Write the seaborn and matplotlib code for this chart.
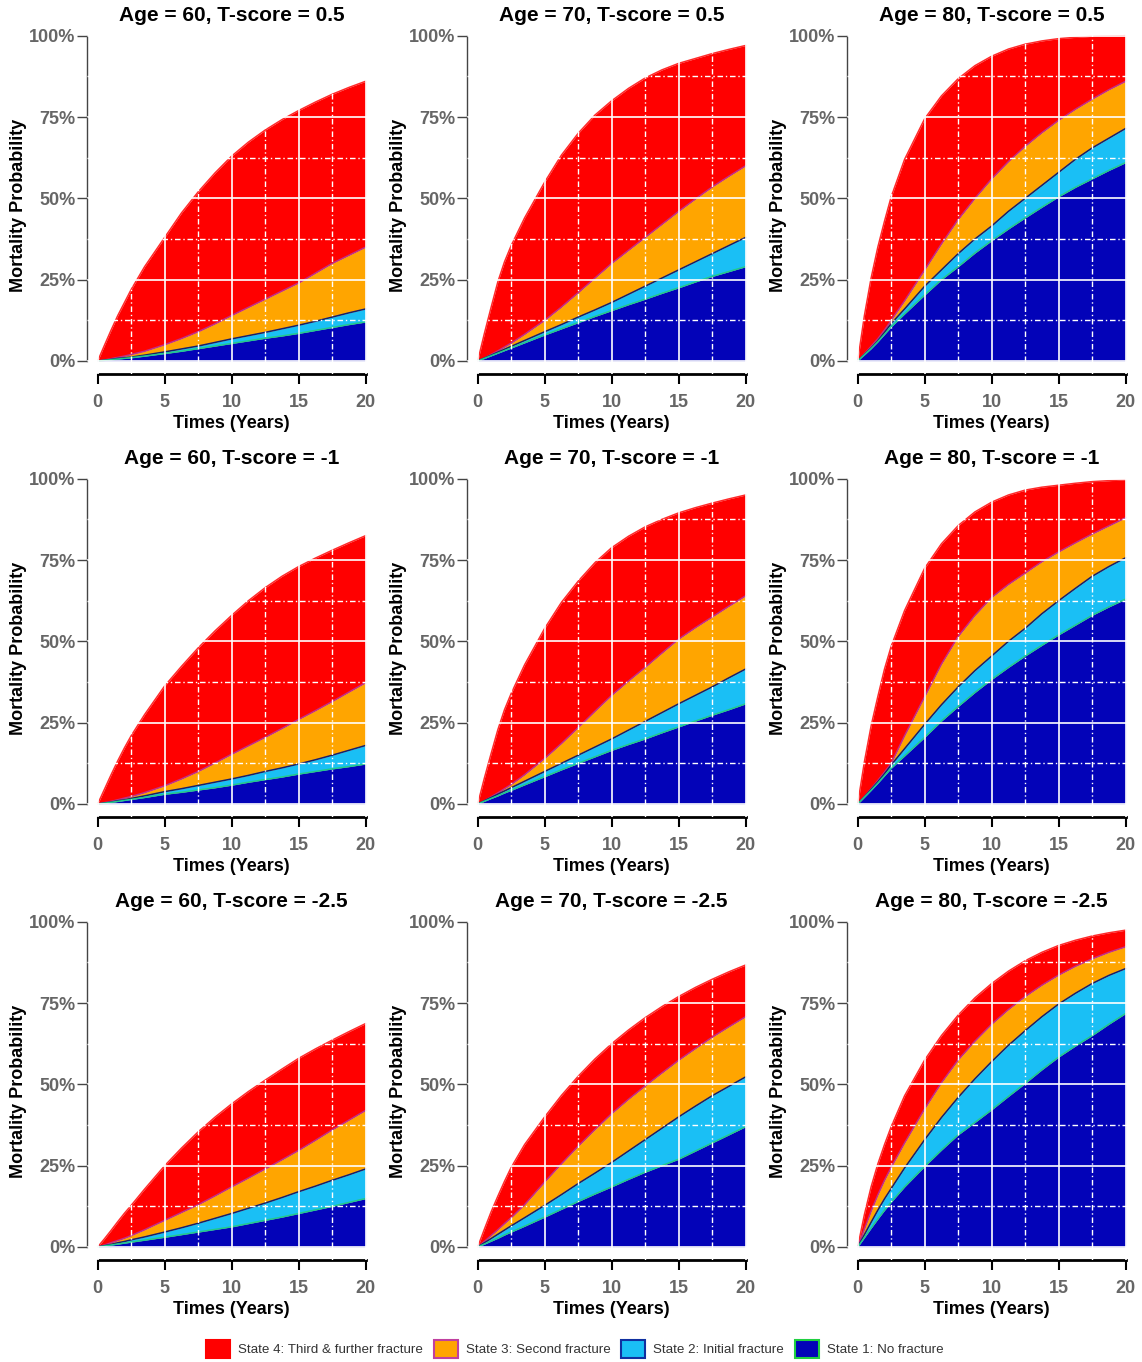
import matplotlib
matplotlib.use("Agg")
import matplotlib.pyplot as plt
from matplotlib.patches import Patch
from matplotlib.ticker import MultipleLocator
import seaborn as sns

# time grid (years) the curves were read at
times = [0, 0.5, 1, 1.5, 2, 2.5, 3.5, 5, 6.25, 7.5, 8.75, 10,
         11.25, 12.5, 13.75, 15, 16.25, 17.5, 18.75, 20]

# cumulative mortality (%) = upper edge of each state band
# s4 = all deaths, s3 = states 1-3, s2 = states 1-2, s1 = state 1 only
p60_05_s4 = [0, 4.8, 9.5, 14, 18, 22, 29, 38, 45.5, 52, 57.8, 63, 67.3, 71, 74.2, 77, 79.6, 82, 84.1, 86]
p60_05_s3 = [0, 0.3, 0.7, 1.1, 1.5, 2, 3, 5, 6.9, 9, 11.4, 14, 16.5, 19, 21.5, 24, 27, 30, 32.5, 35]
p60_05_s2 = [0, 0.2, 0.5, 0.8, 1, 1.2, 1.8, 2.8, 3.7, 4.6, 5.7, 6.8, 7.8, 8.8, 9.9, 11, 12.2, 13.5, 14.8, 16]
p60_05_s1 = [0, 0.2, 0.4, 0.6, 0.8, 1, 1.5, 2.3, 3, 3.8, 4.6, 5.4, 6.2, 7, 7.7, 8.5, 9.4, 10.3, 11.2, 12]

p70_05_s4 = [0, 8.5, 16.5, 24.3, 30.5, 35.5, 44, 55, 63.3, 70, 75.6, 80, 83.8, 87, 89.5, 91.5, 93, 94.5, 95.8, 97]
p70_05_s3 = [0, 0.9, 2, 3.1, 4.3, 5.5, 8.2, 12.5, 16.6, 21, 25.5, 30, 34, 38, 42, 46, 49.8, 53.5, 56.8, 60]
p70_05_s2 = [0, 0.9, 1.8, 2.7, 3.6, 4.5, 6.3, 9, 11.2, 13.5, 15.7, 18, 20.5, 23, 25.5, 28, 30.5, 33, 35.5, 38]
p70_05_s1 = [0, 0.8, 1.6, 2.4, 3.2, 4, 5.6, 8, 9.9, 11.8, 13.7, 15.5, 17.3, 19, 20.8, 22.5, 24.3, 26, 27.5, 29]

p80_05_s4 = [0, 14, 25.5, 35, 43, 50.5, 62, 74.5, 81.5, 86.8, 90.8, 93.7, 95.9, 97.4, 98.4, 99.1, 99.5, 99.8, 99.9, 100]
p80_05_s3 = [0, 2.2, 4.5, 6.8, 9.5, 12.5, 18.5, 28, 36, 43.5, 50, 56, 61.3, 66, 70.2, 74, 77.4, 80.5, 83.4, 86]
p80_05_s2 = [0, 2, 4, 6.2, 8.8, 11.5, 16, 23, 28, 33, 37.5, 41.5, 46, 50, 54, 58, 62, 65.5, 68.5, 71.5]
p80_05_s1 = [0, 1.9, 3.8, 5.9, 8.2, 10.5, 14.5, 20.3, 25, 29, 33.2, 37, 40.6, 44, 47.3, 50.5, 53.4, 56, 58.6, 61]

p60_m1_s4 = [0, 4.5, 9, 13.3, 17.3, 21, 27.5, 36.3, 42.3, 48, 53.2, 58, 62.5, 66.5, 70, 73, 75.6, 78, 80.3, 82.5]
p60_m1_s3 = [0, 0.4, 0.8, 1.3, 1.8, 2.3, 3.5, 5.6, 7.7, 10, 12.6, 15.3, 17.9, 20.5, 23.2, 26, 28.7, 31.5, 34.4, 37.3]
p60_m1_s2 = [0, 0.3, 0.6, 1, 1.3, 1.7, 2.5, 3.8, 4.7, 5.7, 6.7, 7.7, 8.8, 10, 11.1, 12.3, 13.6, 15, 16.5, 18]
p60_m1_s1 = [0, 0.25, 0.5, 0.8, 1.1, 1.4, 2, 3, 3.6, 4.3, 5, 5.8, 6.7, 7.5, 8.3, 9.2, 10, 10.8, 11.5, 12.3]

p70_m1_s4 = [0, 8, 15.5, 22.8, 29, 34, 42.8, 54, 62, 68.5, 74.2, 78.8, 82.3, 85.2, 87.5, 89.5, 91.1, 92.5, 93.8, 95]
p70_m1_s3 = [0, 1, 2.2, 3.4, 4.7, 6, 9, 14, 18.6, 23.5, 28.5, 33.4, 37.8, 42, 46.4, 50.7, 54.2, 57.5, 60.8, 64]
p70_m1_s2 = [0, 1, 2, 3, 4, 5, 7, 10, 12.5, 15, 17.5, 20, 22.7, 25.4, 28.1, 30.8, 33.4, 36, 38.8, 41.5]
p70_m1_s1 = [0, 0.85, 1.7, 2.5, 3.4, 4.2, 5.9, 8.4, 10.5, 12.5, 14.5, 16.5, 18.3, 20, 21.9, 23.7, 25.5, 27.3, 29, 30.8]

p80_m1_s4 = [0, 13, 24, 33, 41.5, 48.5, 59.5, 72.5, 80, 85.6, 89.8, 92.8, 95, 96.5, 97.4, 98, 98.6, 99.1, 99.4, 99.7]
p80_m1_s3 = [0, 2.3, 4.7, 7.2, 9.8, 12.5, 21, 33, 43, 51.5, 58, 63.5, 67.5, 71, 74.5, 77.5, 80.3, 83, 85.5, 88]
p80_m1_s2 = [0, 2.2, 4.5, 6.8, 9.3, 12, 17, 24.5, 30.5, 36, 41, 45.5, 50, 54, 58.5, 62.5, 66.3, 70, 73, 75.7]
p80_m1_s1 = [0, 2.1, 4.2, 6.4, 8.7, 11, 14.8, 20.5, 25.5, 30, 34.3, 38.3, 42, 45.5, 48.8, 52, 55, 58, 60.6, 63]

p60_m25_s4 = [0, 2.5, 5.1, 7.8, 10.4, 12.8, 17.8, 25, 30.4, 35.4, 39.9, 44, 47.8, 51.3, 54.7, 58, 60.9, 63.6, 66.2, 68.7]
p60_m25_s3 = [0, 0.6, 1.3, 2, 2.7, 3.5, 5.3, 8.2, 10.6, 13, 15.7, 18.5, 21.2, 24, 26.8, 29.7, 32.8, 36, 39, 42]
p60_m25_s2 = [0, 0.4, 0.8, 1.3, 1.7, 2.2, 3.1, 4.6, 5.9, 7.3, 8.8, 10.3, 11.9, 13.5, 15.2, 17, 18.7, 20.5, 22.2, 24]
p60_m25_s1 = [0, 0.3, 0.6, 0.9, 1.2, 1.5, 2.1, 3, 3.8, 4.6, 5.4, 6.2, 7.2, 8.2, 9.2, 10.3, 11.4, 12.5, 13.7, 14.9]

p70_m25_s4 = [0, 5.5, 10.8, 15.6, 20.2, 24.5, 31.5, 40, 46.6, 52.5, 57.8, 62.5, 66.7, 70.5, 73.9, 77, 79.8, 82.3, 84.6, 86.7]
p70_m25_s3 = [0, 1.7, 3.5, 5.3, 7.2, 9, 13, 20, 25.6, 31, 36.1, 41, 45.4, 49.5, 53.5, 57.4, 61, 64.5, 67.7, 70.8]
p70_m25_s2 = [0, 1.3, 2.6, 3.9, 5.2, 6.5, 9, 12.8, 16.1, 19.5, 22.7, 26, 29.5, 33, 36.5, 40, 43.3, 46.5, 49.4, 52.3]
p70_m25_s1 = [0, 0.9, 1.8, 2.7, 3.7, 4.6, 6.4, 9.2, 11.6, 14, 16.3, 18.5, 20.8, 23, 25, 27, 29.5, 32, 34.5, 37]

p80_m25_s4 = [0, 10, 18.5, 25.5, 31.5, 37, 46.5, 57.5, 65, 71.3, 76.6, 81, 84.8, 88, 90.6, 92.7, 94.3, 95.6, 96.6, 97.4]
p80_m25_s3 = [0, 5.5, 11, 16, 20.5, 24.5, 32, 42.5, 50.5, 57.5, 63.3, 68.5, 73, 77, 80.5, 83.6, 86.3, 88.6, 90.6, 92.3]
p80_m25_s2 = [0, 3.8, 7.6, 11.3, 14.8, 18, 24.3, 33, 39.8, 46, 51.7, 57, 62, 66.5, 70.8, 74.7, 78, 81, 83.5, 85.6]
p80_m25_s1 = [0, 2.9, 5.8, 8.6, 11.3, 13.8, 18.5, 24.8, 29.8, 34.5, 38.3, 42.2, 46.3, 50.3, 54.5, 58.4, 61.8, 65, 68.5, 71.8]

panels = [
    (60, "0.5", p60_05_s4, p60_05_s3, p60_05_s2, p60_05_s1),
    (70, "0.5", p70_05_s4, p70_05_s3, p70_05_s2, p70_05_s1),
    (80, "0.5", p80_05_s4, p80_05_s3, p80_05_s2, p80_05_s1),
    (60, "-1", p60_m1_s4, p60_m1_s3, p60_m1_s2, p60_m1_s1),
    (70, "-1", p70_m1_s4, p70_m1_s3, p70_m1_s2, p70_m1_s1),
    (80, "-1", p80_m1_s4, p80_m1_s3, p80_m1_s2, p80_m1_s1),
    (60, "-2.5", p60_m25_s4, p60_m25_s3, p60_m25_s2, p60_m25_s1),
    (70, "-2.5", p70_m25_s4, p70_m25_s3, p70_m25_s2, p70_m25_s1),
    (80, "-2.5", p80_m25_s4, p80_m25_s3, p80_m25_s2, p80_m25_s1),
]

state_labels = ["State 4: Third & further fracture", "State 3: Second fracture",
                "State 2: Initial fracture", "State 1: No fracture"]
fill_colors = ["#FF0000", "#FFA500", "#1ABFF5", "#0303B8"]
edge_colors = ["#FF2A2A", "#C0308A", "#14206E", "#22C98A"]
legend_edges = ["#FF0000", "#C040A0", "#1030A0", "#20D040"]

x_ticks = [0, 5, 10, 15, 20]
y_ticks = [0, 25, 50, 75, 100]
y_ticklabels = ["0%", "25%", "50%", "75%", "100%"]

sns.set_style("ticks")
plt.rcParams["font.family"] = ["Liberation Sans", "DejaVu Sans"]

W, H = 1142, 1362
fig = plt.figure(figsize=(W / 100, H / 100), dpi=100)

ax_w, ax_h = 289.4, 351.3
for i, (age, ts, s4, s3, s2, s1) in enumerate(panels):
    r, c = divmod(i, 3)
    left = 87 + 380 * c
    top = 22.7 + 443 * r
    ax = fig.add_axes([left / W, 1 - (top + ax_h) / H, ax_w / W, ax_h / H])

    lowers = [s3, s2, s1, [0] * len(times)]
    uppers = [s4, s3, s2, s1]
    for lo, up, fc in zip(lowers, uppers, fill_colors):
        ax.fill_between(times, lo, up, color=fc, lw=0)
    for up, ec in zip(uppers, edge_colors):
        sns.lineplot(x=times, y=up, ax=ax, color=ec, lw=1.1)

    ax.set_xlim(-0.8, 20.8)
    ax.set_ylim(-4, 104)
    ax.set_xticks(x_ticks)
    ax.set_xticklabels([str(t) for t in x_ticks], fontweight="bold")
    ax.set_yticks(y_ticks)
    ax.set_yticklabels(y_ticklabels, fontweight="bold")
    ax.xaxis.set_minor_locator(MultipleLocator(2.5))
    ax.yaxis.set_minor_locator(MultipleLocator(12.5))

    ax.set_axisbelow(False)
    ax.grid(which="major", color="white", lw=1.2)
    ax.grid(which="minor", color="white", lw=1.0, ls=(0, (4, 2, 1, 2)))

    ax.spines[["top", "right"]].set_visible(False)
    ax.spines["left"].set_bounds(0, 100)
    ax.spines["left"].set_color("#444444")
    ax.spines["left"].set_linewidth(1.0)
    ax.spines["bottom"].set_bounds(0, 20)
    ax.spines["bottom"].set_color("black")
    ax.spines["bottom"].set_linewidth(2.0)

    ax.tick_params(axis="y", which="major", length=7.5, width=1, color="#444444",
                   pad=1, labelsize=13, labelcolor="#666666")
    ax.tick_params(axis="x", which="major", length=7.5, width=1.5, color="black",
                   pad=7, labelsize=13, labelcolor="#666666")
    ax.tick_params(which="minor", length=0)

    ax.set_xlabel("Times (Years)", fontsize=13, fontweight="bold", color="black")
    ax.xaxis.set_label_coords(0.5, -0.141)
    ax.xaxis.label.set_va("center")
    ax.set_ylabel("Mortality Probability", fontsize=13, fontweight="bold", color="black")
    ax.yaxis.set_label_coords(-0.238, 0.48)
    ax.yaxis.label.set_va("center")

    ax.text(0.5, 1 + 7 / ax_h, f"Age = {age}, T-score = {ts}", transform=ax.transAxes,
            ha="center", va="center", fontsize=15, fontweight="bold", color="black")

handles = [Patch(facecolor=fc, edgecolor=ec, lw=1.5) for fc, ec in zip(fill_colors, legend_edges)]
fig.legend(handles, state_labels, loc="center", bbox_to_anchor=(575 / W, 1 - 1349 / H),
           ncol=4, frameon=False, fontsize=9.6, handlelength=1.8, handleheight=1.65,
           handletextpad=0.6, columnspacing=0.8, labelcolor="#333333")

fig.savefig("out.png", dpi=100)
